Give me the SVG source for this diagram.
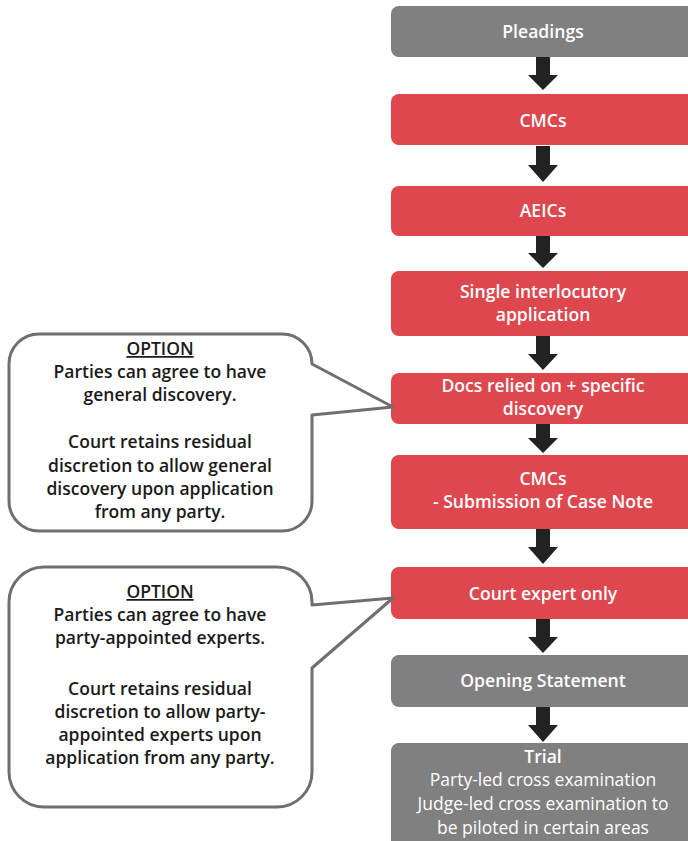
<svg xmlns="http://www.w3.org/2000/svg" width="688" height="841" viewBox="0 0 688 841">
<style>
.red{fill:#dd474d}
.gray{fill:#808080}
.bt{font-family:"Open Sans","Noto Sans",sans-serif;font-size:17.6px;font-weight:600;fill:#fff;text-anchor:middle}
.bn{font-family:"Open Sans","Noto Sans",sans-serif;font-size:17.5px;font-weight:400;fill:#fff;text-anchor:middle}
.ct{font-family:"Open Sans","Noto Sans",sans-serif;font-size:17.5px;font-weight:600;fill:#1a1a1a;text-anchor:middle}
.call{fill:#fff;stroke:#6f6f6f;stroke-width:3;stroke-linejoin:round}
.arr{fill:#222}
</style>
<g id="pleadings"><rect class="gray" x="391" y="6" width="304" height="51" rx="8"/><text class="bt" x="543" y="38">Pleadings</text></g>
<g id="cmcs1"><rect class="red" x="391" y="94" width="304" height="51" rx="8"/><text class="bt" x="543" y="127">CMCs</text></g>
<g id="aeics"><rect class="red" x="391" y="186" width="304" height="50" rx="8"/><text class="bt" x="543" y="217">AEICs</text></g>
<g id="single"><rect class="red" x="391" y="271" width="304" height="65" rx="8"/><text class="bt" x="543" y="298">Single interlocutory</text><text class="bt" x="543" y="321">application</text></g>
<g id="docs"><rect class="red" x="391" y="373" width="304" height="51" rx="8"/><text class="bt" x="543" y="392">Docs relied on + specific</text><text class="bt" x="543" y="415">discovery</text></g>
<g id="cmcs2"><rect class="red" x="391" y="455" width="304" height="74" rx="8"/><text class="bt" x="543" y="485">CMCs</text><text class="bt" x="543" y="508">- Submission of Case Note</text></g>
<g id="court"><rect class="red" x="391" y="567" width="304" height="52" rx="8"/><text class="bt" x="543" y="600">Court expert only</text></g>
<g id="opening"><rect class="gray" x="391" y="655" width="304" height="52" rx="8"/><text class="bt" x="543" y="687">Opening Statement</text></g>
<g id="trial"><rect class="gray" x="391" y="743" width="304" height="110" rx="8"/><text class="bt" x="543" y="763">Trial</text><text class="bn" x="543" y="786">Party-led cross examination</text><text class="bn" x="543" y="810">Judge-led cross examination to</text><text class="bn" x="543" y="834">be piloted in certain areas</text></g>
<g id="callout1"><path class="call" d="M 39,334 H 282 A 30 30 0 0 1 312,364 L 393,407 L 312,415 V 501 A 30 30 0 0 1 282,531 H 39 A 30 30 0 0 1 9,501 V 364 A 30 30 0 0 1 39,334 Z"/>
<text class="ct" x="160" y="355" text-decoration="underline">OPTION</text>
<text class="ct" x="160" y="378">Parties can agree to have</text>
<text class="ct" x="160" y="401">general discovery.</text>
<text class="ct" x="160" y="448">Court retains residual</text>
<text class="ct" x="160" y="472">discretion to allow general</text>
<text class="ct" x="160" y="495">discovery upon application</text>
<text class="ct" x="160" y="518">from any party.</text></g>
<g id="callout2"><path class="call" d="M 44,567 H 277 A 35 35 0 0 1 312,602 L 312,605 L 393,598 L 312,668 V 772 A 35 35 0 0 1 277,807 H 44 A 35 35 0 0 1 9,772 V 602 A 35 35 0 0 1 44,567 Z"/>
<text class="ct" x="160" y="598" text-decoration="underline">OPTION</text>
<text class="ct" x="160" y="621">Parties can agree to have</text>
<text class="ct" x="160" y="644">party-appointed experts.</text>
<text class="ct" x="160" y="695">Court retains residual</text>
<text class="ct" x="160" y="718">discretion to allow party-</text>
<text class="ct" x="160" y="741">appointed experts upon</text>
<text class="ct" x="160" y="764">application from any party.</text></g>
<g id="connectors">
<path class="arr" d="M536,57 H550 V75 H558 L543,90 L528,75 H536 Z"/>
<path class="arr" d="M536,146 H550 V165 H558 L543,182 L528,165 H536 Z"/>
<path class="arr" d="M536,236 H550 V253 H558 L543,268 L528,253 H536 Z"/>
<path class="arr" d="M536,336 H550 V354 H558 L543,370 L528,354 H536 Z"/>
<path class="arr" d="M536,424 H550 V438 H558 L543,453 L528,438 H536 Z"/>
<path class="arr" d="M536,529 H550 V547 H558 L543,564 L528,547 H536 Z"/>
<path class="arr" d="M536,619 H550 V637 H558 L543,653 L528,637 H536 Z"/>
<path class="arr" d="M536,707 H550 V725 H558 L543,742 L528,725 H536 Z"/>
</g>
</svg>
